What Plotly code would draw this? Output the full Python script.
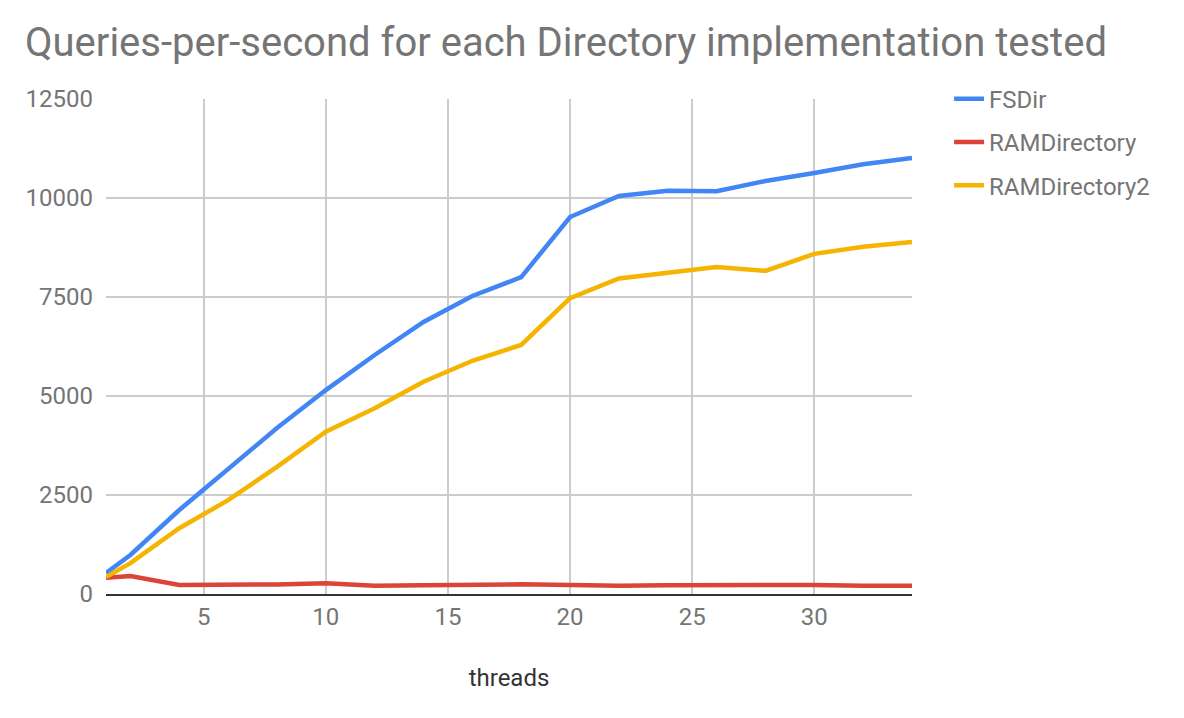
import plotly.graph_objects as go

threads = [1, 2, 4, 6, 8, 10, 12, 14, 16, 18, 20, 22, 24, 26, 28, 30, 32, 34]
fsdir = [530, 985, 2120, 3150, 4190, 5150, 6035, 6870, 7525, 8000, 9520, 10050,
         10180, 10170, 10430, 10630, 10850, 11010]
ramdir = [410, 455, 230, 230, 240, 270, 210, 220, 235, 245, 230, 210, 220, 225,
          245, 230, 210, 210]
ramdir2 = [430, 780, 1660, 2370, 3210, 4100, 4690, 5360, 5890, 6290, 7470, 7970,
           8110, 8260, 8160, 8590, 8770, 8890]

series = [("FSDir", fsdir, "#4285F4"),
          ("RAMDirectory", ramdir, "#DB4437"),
          ("RAMDirectory2", ramdir2, "#F4B400")]

x_ticks = [5, 10, 15, 20, 25, 30]
y_ticks = [0, 2500, 5000, 7500, 10000, 12500]
y_ticktext = ["0", "2500", "5000", "7500", "10000", "12500"]

fig = go.Figure()
for name, vals, color in series:
    fig.add_trace(go.Scatter(x=threads, y=vals, name=name, mode="lines",
                             legendgroup=name,
                             line=dict(color=color, width=4.5)))

fig.update_layout(
    width=1176, height=710,
    paper_bgcolor="white", plot_bgcolor="white",
    font=dict(family="Roboto", color="#757575", size=24),
    title=dict(text="Queries-per-second for each Directory implementation tested",
               x=0.0145, xanchor="left", y=0.952, yanchor="middle",
               font=dict(size=40, color="#757575")),
    margin=dict(l=98, r=272, t=91, b=124, autoexpand=False),
    showlegend=True,
    legend=dict(x=1.046, xanchor="left", y=1.045, yanchor="top",
                font=dict(size=24, color="#757575"),
                itemwidth=30, tracegroupgap=9, bgcolor="rgba(0,0,0,0)"),
    xaxis=dict(range=[1, 34], tickvals=x_ticks, showgrid=True,
               gridcolor="#cccccc", gridwidth=2, zeroline=False,
               showline=True, linecolor="#333333", linewidth=2,
               ticks="", ticklen=0, automargin=False,
               tickfont=dict(size=24),
               title=dict(text="threads", font=dict(size=24, color="#333333"),
                          standoff=39)),
    yaxis=dict(range=[0, 12500], tickvals=y_ticks, ticktext=y_ticktext,
               showgrid=True, automargin=False,
               gridcolor="#cccccc", gridwidth=2, zeroline=False,
               showline=False, ticks="", ticklabelstandoff=12,
               tickfont=dict(size=24)),
)

fig.write_html("out.html")
